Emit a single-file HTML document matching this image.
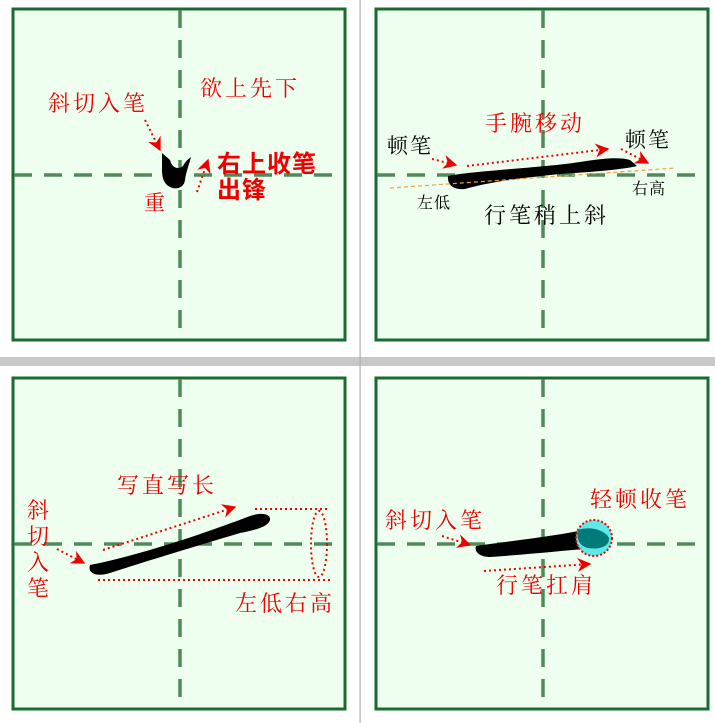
<!DOCTYPE html>
<html><head><meta charset="utf-8"><style>
html,body{margin:0;padding:0;background:#fff;}
svg{display:block;}
text{font-family:"Liberation Serif","Noto Serif CJK SC","Noto Sans CJK SC",serif;letter-spacing:3px;}
</style></head><body>
<svg width="715" height="723" viewBox="0 0 715 723" xmlns="http://www.w3.org/2000/svg">
<defs>
<marker id="ah" viewBox="0 0 10 10" refX="9" refY="5" markerWidth="7" markerHeight="7" orient="auto"><path d="M0,0 L10,5 L0,10 L3,5 Z" fill="#e00"/></marker>
</defs>
<rect x="0" y="357" width="715" height="9" fill="#c8c8c8"/>
<rect x="359.5" y="0" width="1.2" height="723" fill="#b0b0b0"/>
<g id="p">
<rect x="13" y="9" width="332" height="331" fill="#efffef" stroke="#1a6b30" stroke-width="3"/>
<line x1="14" y1="175" x2="344" y2="175" stroke="#4f8a58" stroke-width="3.5" stroke-dasharray="18,12"/>
<line x1="180" y1="10" x2="180" y2="339" stroke="#4f8a58" stroke-width="3.5" stroke-dasharray="18,12"/>
</g>
<use href="#p" x="363" y="0"/>
<use href="#p" x="0" y="369"/>
<use href="#p" x="363" y="369"/>

<!-- Panel 1 -->
<path d="M162,153 L170,160 C172,168 178,170 183,166 C186,160 190,158 191,157 C189,165 186,172 185,180 C184,188 176,190 170,187 C164,184 162,178 162,170 Z" fill="#000"/>
<text x="200" y="96" font-size="22" fill="#e00">欲上先下</text>
<text x="48" y="111" font-size="22" fill="#e00">斜切入笔</text>
<line x1="145" y1="120" x2="160" y2="150" stroke="#e00" stroke-width="2" stroke-dasharray="2,3" marker-end="url(#ah)"/>
<line x1="197" y1="192" x2="208" y2="160" stroke="#e00" stroke-width="2" stroke-dasharray="2,3" marker-end="url(#ah)"/>
<text x="217" y="172" font-size="24" font-weight="bold" fill="#e00" style="font-family:'Liberation Sans','Noto Sans CJK SC',sans-serif;letter-spacing:1px">右上收笔</text>
<text x="217" y="198" font-size="24" font-weight="bold" fill="#e00" style="font-family:'Liberation Sans','Noto Sans CJK SC',sans-serif;letter-spacing:1px">出锋</text>
<text x="144" y="210" font-size="21" fill="#e00">重</text>

<!-- Panel 2 -->
<text x="485" y="131" font-size="22" fill="#e00">手腕移动</text>
<text x="387" y="153" font-size="21" fill="#000" style="letter-spacing:2px">顿笔</text>
<text x="625" y="147" font-size="21" fill="#000" style="letter-spacing:2px">顿笔</text>
<path d="M448,176 C470,171 540,168 580,162 C605,158 620,157 630,160 L637,166 C620,170 590,172 560,174 C520,178 490,182 465,189 C455,190 447,186 448,176 Z" fill="#000"/>
<line x1="390" y1="188" x2="676" y2="168" stroke="#f0a040" stroke-width="1.2" stroke-dasharray="4,3"/>
<line x1="432" y1="159" x2="456" y2="165" stroke="#e00" stroke-width="2" stroke-dasharray="2,3" marker-end="url(#ah)"/>
<line x1="467" y1="166" x2="608" y2="149" stroke="#e00" stroke-width="2" stroke-dasharray="2,3" marker-end="url(#ah)"/>
<line x1="621" y1="149" x2="648" y2="163" stroke="#e00" stroke-width="2" stroke-dasharray="2,3" marker-end="url(#ah)"/>
<text x="417" y="208" font-size="16" fill="#000" style="letter-spacing:1px">左低</text>
<text x="632" y="194" font-size="16" fill="#000" style="letter-spacing:1px">右高</text>
<text x="484" y="223" font-size="22" fill="#000" style="letter-spacing:3px">行笔稍上斜</text>

<!-- Panel 3 -->
<text x="117" y="493" font-size="22" fill="#e00">写直写长</text>
<text x="27" y="518" font-size="22" fill="#e00">斜</text>
<text x="27" y="544" font-size="22" fill="#e00">切</text>
<text x="27" y="570" font-size="22" fill="#e00">入</text>
<text x="27" y="596" font-size="22" fill="#e00">笔</text>
<path d="M90,565 C140,555 200,535 250,516 C262,512 271,514 270,520 C268,527 255,530 240,533 C200,545 150,560 110,573 C98,577 87,574 90,565 Z" fill="#000"/>
<line x1="255" y1="509" x2="328" y2="509" stroke="#e00" stroke-width="2" stroke-dasharray="2,3"/>
<line x1="98" y1="580" x2="330" y2="580" stroke="#e00" stroke-width="2" stroke-dasharray="2,3"/>
<ellipse cx="319" cy="544" rx="8" ry="33" fill="none" stroke="#e00" stroke-width="2" stroke-dasharray="2,3"/>
<line x1="103" y1="550" x2="235" y2="507" stroke="#e00" stroke-width="2" stroke-dasharray="2,3" marker-end="url(#ah)"/>
<line x1="57" y1="549" x2="84" y2="563" stroke="#e00" stroke-width="2" stroke-dasharray="2,3" marker-end="url(#ah)"/>
<text x="235" y="611" font-size="22" fill="#e00">左低右高</text>

<!-- Panel 4 -->
<text x="590" y="507" font-size="22" fill="#e00">轻顿收笔</text>
<text x="385" y="528" font-size="22" fill="#e00">斜切入笔</text>
<path d="M476,546 C520,540 560,535 578,531 L590,530 L596,548 C560,551 520,555 490,557 C480,557 474,552 476,546 Z" fill="#000"/>
<circle cx="594" cy="538" r="18" fill="#5fe8e8" stroke="#e00" stroke-width="2" stroke-dasharray="2,2"/>
<path d="M578,530 C590,526 605,530 609,538 C610,546 600,550 588,548 C580,546 576,540 578,530 Z" fill="#007a78"/>
<line x1="442" y1="536" x2="470" y2="545" stroke="#e00" stroke-width="2" stroke-dasharray="2,3" marker-end="url(#ah)"/>
<line x1="484" y1="571" x2="590" y2="564" stroke="#e00" stroke-width="2" stroke-dasharray="2,3" marker-end="url(#ah)"/>
<text x="496" y="593" font-size="22" fill="#e00">行笔扛肩</text>
</svg>
</body></html>
